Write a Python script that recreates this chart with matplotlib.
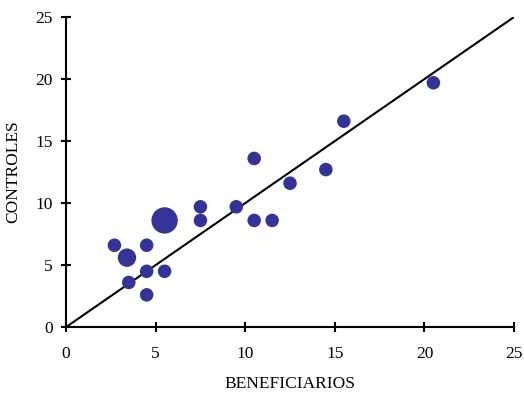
import matplotlib
matplotlib.use("Agg")
import matplotlib.pyplot as plt

plt.rcParams['font.family'] = ['Liberation Serif', 'DejaVu Serif']

# beneficiarios vs controles
beneficiarios = [2.7, 3.4, 3.5, 4.5, 4.5, 4.5, 5.5, 5.5, 7.5, 7.5, 9.5,
                 10.5, 10.5, 11.5, 12.5, 14.5, 15.5, 20.5]
controles = [6.6, 5.6, 3.6, 6.6, 4.5, 2.6, 8.6, 4.5, 9.7, 8.6, 9.7,
             13.6, 8.6, 8.6, 11.6, 12.7, 16.6, 19.7]
# number of coincident cases at each point
casos = [1, 2, 1, 1, 1, 1, 4, 1, 1, 1, 1, 1, 1, 1, 1, 1, 1, 1]
tamanos = {1: 95, 2: 175, 4: 360}

fig = plt.figure(figsize=(5.24, 3.96), dpi=100)
ax = fig.add_axes([0.126, 0.174, 0.855, 0.783])

ax.plot([0, 25], [0, 25], color='black', lw=1.5, zorder=1)
ax.scatter(beneficiarios, controles, s=[tamanos[c] for c in casos],
           color='#333399', edgecolors='none', zorder=2)

ax.set_xlim(0, 25)
ax.set_ylim(0, 25)
ax.set_xticks(range(0, 26, 5))
ax.set_yticks(range(0, 26, 5))
ax.spines['top'].set_visible(False)
ax.spines['right'].set_visible(False)
for sp in ('left', 'bottom'):
    ax.spines[sp].set_linewidth(1.5)
ax.tick_params(direction='inout', length=7, width=1.5, labelsize=12.5)
ax.tick_params(axis='x', pad=10)
ax.tick_params(axis='y', pad=6)
ax.set_xlabel('BENEFICIARIOS', fontsize=12.5, labelpad=10)
ax.set_ylabel('CONTROLES', fontsize=12.5, labelpad=10)

fig.savefig('out.png', dpi=100)
